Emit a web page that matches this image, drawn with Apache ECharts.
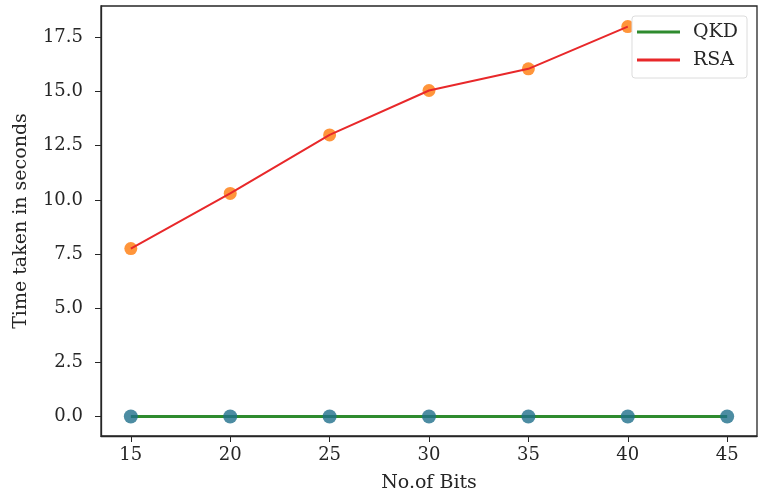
<!DOCTYPE html>
<html>
<head>
<meta charset="utf-8">
<script src="https://cdn.jsdelivr.net/npm/echarts@6/dist/echarts.min.js"></script>
<style>
  html, body { margin: 0; padding: 0; background: #fff; }
  #chart { width: 758px; height: 495px; }
</style>
</head>
<body>
<div id="chart"></div>
<script>
// 数据
const bitsQKD = [15, 20, 25, 30, 35, 40, 45];
const timeQKD = [0, 0, 0, 0, 0, 0, 0];
const bitsRSA = [15, 20, 25, 30, 35, 40];
const timeRSA = [7.75, 10.3, 13.0, 15.05, 16.05, 18.0];
const xTicks = [15, 20, 25, 30, 35, 40, 45];
const yTicks = [0, 2.5, 5, 7.5, 10, 12.5, 15, 17.5];

const FONT = 'DejaVu Serif';
const INK = '#262626';

function pairs(xs, ys) {
    return xs.map(function (x, i) { return [x, ys[i]]; });
}

const chart = echarts.init(document.getElementById('chart'));

const option = {
    animation: false,
    backgroundColor: '#fff',
    grid: {
        left: 101, right: 1, top: 6, bottom: 59,
        outerBoundsMode: 'none',
        show: true, borderColor: INK, borderWidth: 1.3
    },
    legend: {
        data: ['QKD', 'RSA'],
        orient: 'vertical',
        right: 11, top: 16,
        icon: 'rect',
        itemWidth: 43, itemHeight: 3,
        itemGap: 8,
        padding: [6, 9, 8, 5],
        borderColor: '#dcdcdc', borderWidth: 1, borderRadius: 3,
        backgroundColor: '#fff',
        textStyle: { fontFamily: FONT, fontSize: 19, lineHeight: 20, color: INK, padding: [0, 0, 0, 8] }
    },
    xAxis: {
        type: 'value',
        min: 13.5, max: 46.5,
        name: 'No.of Bits',
        nameLocation: 'middle',
        nameGap: 38,
        nameTextStyle: { fontFamily: FONT, fontSize: 19, color: INK },
        axisLine: { onZero: false, lineStyle: { color: INK, width: 1.3 } },
        axisTick: { customValues: xTicks, length: 6, lineStyle: { color: INK } },
        axisLabel: { customValues: xTicks, fontFamily: FONT, fontSize: 18, color: INK, margin: 10 },
        splitLine: { show: false }
    },
    yAxis: {
        type: 'value',
        min: -0.9, max: 18.95,
        name: 'Time taken in seconds',
        nameLocation: 'middle',
        nameGap: 70,
        nameTextStyle: { fontFamily: FONT, fontSize: 19, color: INK },
        axisLine: { show: true, onZero: false, lineStyle: { color: INK, width: 1.3 } },
        axisTick: { show: true, customValues: yTicks, length: 6, lineStyle: { color: INK } },
        axisLabel: {
            customValues: yTicks, fontFamily: FONT, fontSize: 18, color: INK, margin: 18,
            formatter: function (v) { return v.toFixed(1); }
        },
        splitLine: { show: false }
    },
    series: [
        {
            name: 'RSA pts', type: 'scatter', data: pairs(bitsRSA, timeRSA),
            symbolSize: 13, itemStyle: { color: '#ff7a0a' }, z: 2
        },
        {
            name: 'QKD', type: 'line', data: pairs(bitsQKD, timeQKD),
            showSymbol: false, symbol: 'none',
            lineStyle: { color: '#2e8b2e', width: 2.8 }, itemStyle: { color: '#2e8b2e' }, z: 2
        },
        {
            name: 'RSA', type: 'line', data: pairs(bitsRSA, timeRSA),
            showSymbol: false, symbol: 'none',
            lineStyle: { color: '#e8282a', width: 2 }, itemStyle: { color: '#e8282a' }, z: 3
        },
        {
            name: 'QKD pts', type: 'scatter', data: pairs(bitsQKD, timeQKD),
            symbolSize: 14, itemStyle: { color: '#1f6f8b' }, z: 4
        }
    ]
};

chart.setOption(option);
</script>
</body>
</html>
